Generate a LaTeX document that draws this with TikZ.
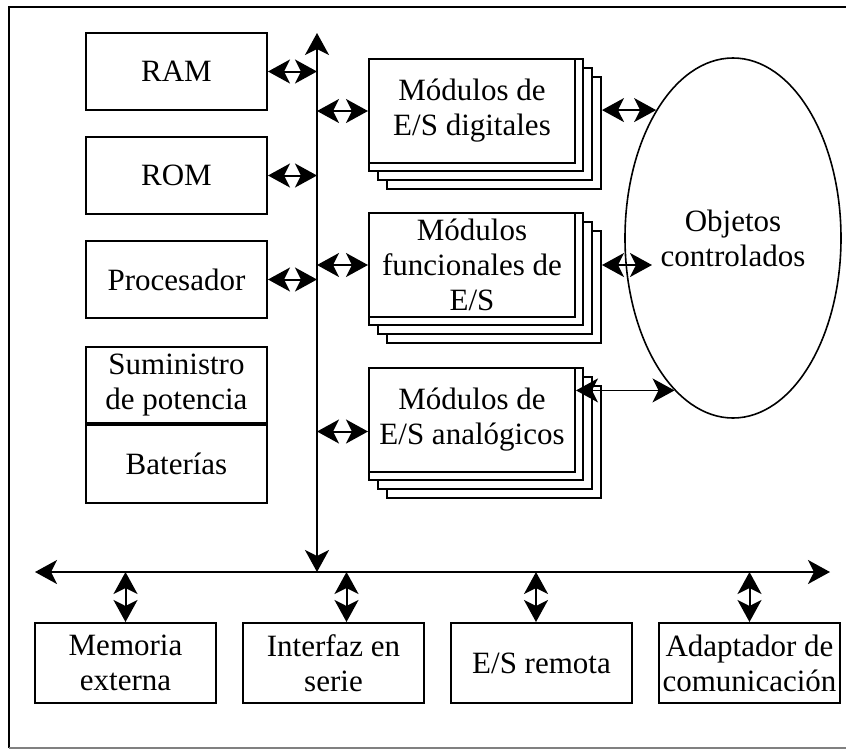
\documentclass[tikz,border=0pt]{standalone}
\usepackage{fontspec}
\setmainfont{Liberation Serif}
\usetikzlibrary{positioning, calc, shapes.geometric, arrows.meta}
\newcommand{\modstack}[3]{%
  \coordinate (#1-nw) at #2;
  \node[layer] (#1-c) at ($(#1-nw)+(18,18)$) {};
  \node[layer] (#1-b) at ($(#1-nw)+(9,9)$) {};
  \node[layer] (#1-a) at (#1-nw) {};
  \node[modbox] (#1) at (#1-nw) {#3};
}

\begin{document}
\begin{tikzpicture}[x=0.5pt, y=-0.5pt,
  >={Stealth[length=11pt,width=12pt,inset=3pt]},
  unitbox/.style={draw, line width=1pt, minimum width=90.5pt, minimum height=38.5pt, inner sep=0pt, align=center, font=\fontsize{15.5}{17.5}\selectfont},
  layer/.style={draw, fill=white, line width=1pt, anchor=north west, minimum width=107pt, minimum height=56pt, inner sep=0pt},
  modbox/.style={unitbox, fill=white, anchor=north west, minimum width=103pt, minimum height=52pt},
  bus/.style={<->, line width=1pt},
  link/.style={<->, line width=1pt}]
\useasboundingbox (0,0) rectangle (846,751);
% frame
\draw[line width=1pt] (9,748) -- (9,7) -- (846,7);
\draw[gray, line width=0.8pt] (9,748) -- (846,748);

% buses
\coordinate (bustop) at (317,33);
\coordinate (busjoin) at (317,572);
\coordinate (busL) at (35,572);
\coordinate (busR) at (830,572);
\draw[bus] (bustop) -- (busjoin);
\draw[bus] (busL) -- (busR);

% left column
\node[unitbox] (ram) at (176.5,71.5) {RAM};
\node[unitbox] (rom) [below=12.5pt of ram] {ROM};
\node[unitbox] (cpu) [below=12.5pt of rom] {Procesador};
\node[unitbox, minimum height=38pt] (psu) [below=13.5pt of cpu] {Suministro\\de potencia};
\node[unitbox, minimum height=39pt] (bat) [below=0pt of psu] {Baterías};
\path[link] (ram) edge (ram.east -| busjoin);
\path[link] (rom) edge (rom.east -| busjoin);
\path[link] (cpu) edge (cpu.east -| busjoin);

% I/O modules
\modstack{dig}{(368,58)}{Módulos de\\E/S digitales}
\modstack{fun}{(368,212)}{Módulos\\funcionales de\\E/S}
\modstack{ana}{(368,367)}{Módulos de\\E/S analógicos}
\draw[link] (dig.west -| busjoin) -- (dig.west);
\draw[link] (fun.west -| busjoin) -- (fun.west);
\draw[link] ([yshift=-5.75pt]ana.west -| busjoin) -- ([yshift=-5.75pt]ana.west);

% controlled objects
\node[draw, ellipse, line width=0.8pt, minimum width=108pt, minimum height=180pt, inner sep=0pt, align=center, font=\fontsize{15.5}{17.5}\selectfont] (obj) at (733,238) {Objetos\\controlados};
\draw[link, line width=0.8pt] (dig-c.east |- obj.121) -- (obj.121);
\draw[link] (fun-c.east |- fun.east) -- ++(25pt,0);
\draw[link, line width=0.6pt] (ana.east |- obj.249) -- (obj.249);

% bottom row
\node[unitbox, minimum height=40pt] (extmem) at (125.5,663) {Memoria\\externa};
\node[unitbox, minimum height=40pt] (serial) [right=12.5pt of extmem] {Interfaz en\\serie};
\node[unitbox, minimum height=40pt] (remio) [right=12.5pt of serial] {E/S remota};
\node[unitbox, minimum height=40pt] (comm) [right=12.5pt of remio] {Adaptador de\\comunicación};
\draw[link] (extmem.north) -- (extmem.north |- busjoin);
\draw[link] ([xshift=6.5pt]serial.north) -- ([xshift=6.5pt]serial.north |- busjoin);
\draw[link] ([xshift=-2.75pt]remio.north) -- ([xshift=-2.75pt]remio.north |- busjoin);
\draw[link] (comm.north) -- (comm.north |- busjoin);
\end{tikzpicture}
\end{document}
